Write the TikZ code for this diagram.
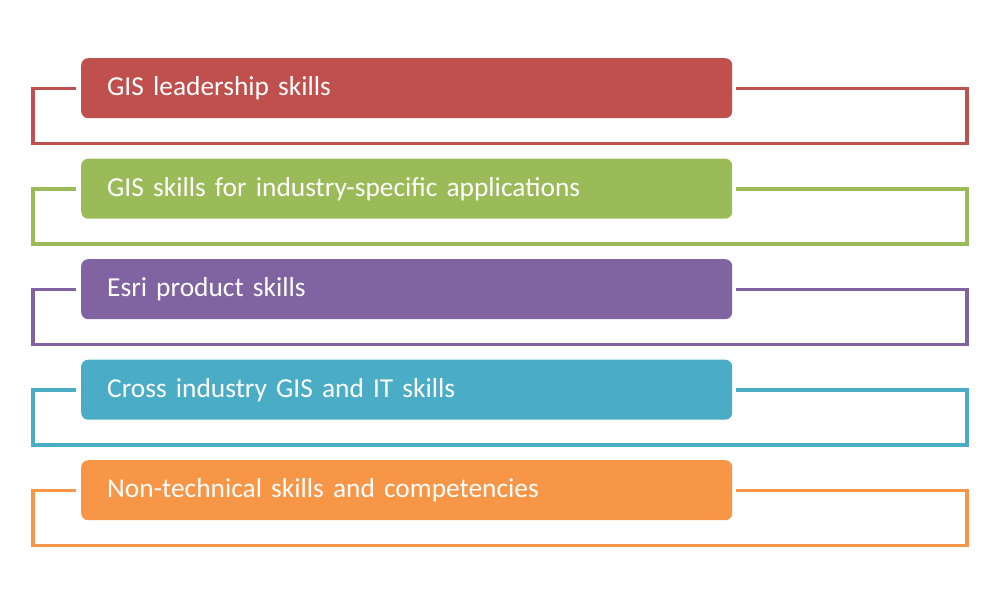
\documentclass[tikz,border=0pt]{standalone}
\usepackage{fontspec}
\setmainfont{Carlito}
\definecolor{cred}{HTML}{C0504D}
\definecolor{cgreen}{HTML}{9BBB59}
\definecolor{cpurple}{HTML}{8064A2}
\definecolor{ccyan}{HTML}{4BACC6}
\definecolor{corange}{HTML}{F79646}
\tikzset{
  bar/.style={fill=#1, draw=none, rounded corners=7pt, minimum width=651pt, minimum height=60pt,
    anchor=north west, text=white, align=left, text width=599pt, inner xsep=26pt, inner ysep=0pt,
    font=\fontsize{27.4}{31}\selectfont},
  frame/.style={draw=#1, line width=3.5pt}
}
\begin{document}
\begin{tikzpicture}[x=1pt,y=-1pt]
\useasboundingbox (0,0) rectangle (1000,600);
\foreach \i/\c/\t in {0/cred/GIS leadership skills,
  1/cgreen/GIS skills for industry-specific applications,
  2/cpurple/Esri product skills,
  3/ccyan/Cross industry GIS and IT skills,
  4/corange/Non-technical skills and competencies}{
  \pgfmathsetmacro{\yy}{58+100.5*\i}
  \node[bar=\c] (b\i) at (81,\yy) {\t};
  \draw[frame=\c] ([xshift=-5pt,yshift=-0.5pt]b\i.west) -- ++(-43,0) |- ++(934,55) |- ([xshift=4pt,yshift=-0.5pt]b\i.east);
}
\end{tikzpicture}
\end{document}
